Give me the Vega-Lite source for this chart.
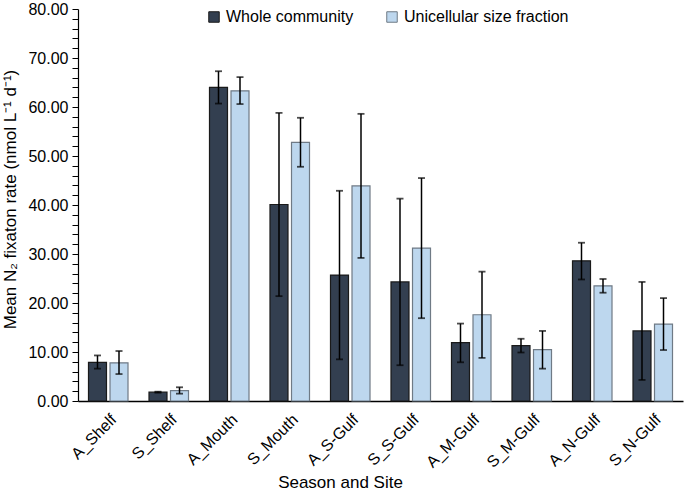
{
  "$schema": "https://vega.github.io/schema/vega-lite/v6.json",
  "width": 605,
  "height": 392,
  "autosize": "none",
  "padding": {"left": 78, "top": 9, "right": 4, "bottom": 92},
  "background": "white",
  "config": {
    "font": "Liberation Sans",
    "view": {"stroke": null},
    "axis": {"labelFont": "Liberation Sans", "titleFont": "Liberation Sans", "labelColor": "#000", "titleColor": "#000", "titleFontWeight": "normal", "domainColor": "#000", "tickColor": "#000"},
    "axisY": {
      "titleFontSize": 17, "titlePadding": 8, "titleY": 190,
      "labelFontSize": 16, "grid": false, "ticks": true, "tickSize": 6, "tickWidth": 1, "domainWidth": 1.2,
      "labelOverlap": false, "labelBound": false, "labelFlush": false, "labelPadding": 4,
      "tickCount": 40,
      "labelExpr": "datum.value % 10 === 0 ? format(datum.value, '.2f') : ''"
    },
    "legend": {"labelFont": "Liberation Sans", "labelColor": "#000"}
  },
  "data": {
    "values": [
      {"site": "A_Shelf", "series": "Whole community", "value": 7.9, "lo": 6.6, "hi": 9.3},
      {"site": "A_Shelf", "series": "Unicellular size fraction", "value": 7.8, "lo": 5.5, "hi": 10.2},
      {"site": "S_Shelf", "series": "Whole community", "value": 1.8, "lo": 1.7, "hi": 1.9},
      {"site": "S_Shelf", "series": "Unicellular size fraction", "value": 2.1, "lo": 1.5, "hi": 2.8},
      {"site": "A_Mouth", "series": "Whole community", "value": 64.0, "lo": 60.7, "hi": 67.3},
      {"site": "A_Mouth", "series": "Unicellular size fraction", "value": 63.3, "lo": 60.6, "hi": 66.1},
      {"site": "S_Mouth", "series": "Whole community", "value": 40.1, "lo": 21.4, "hi": 58.8},
      {"site": "S_Mouth", "series": "Unicellular size fraction", "value": 52.8, "lo": 47.8, "hi": 57.8},
      {"site": "A_S-Gulf", "series": "Whole community", "value": 25.7, "lo": 8.5, "hi": 42.9},
      {"site": "A_S-Gulf", "series": "Unicellular size fraction", "value": 43.9, "lo": 29.2, "hi": 58.6},
      {"site": "S_S-Gulf", "series": "Whole community", "value": 24.3, "lo": 7.3, "hi": 41.3},
      {"site": "S_S-Gulf", "series": "Unicellular size fraction", "value": 31.2, "lo": 16.9, "hi": 45.5},
      {"site": "A_M-Gulf", "series": "Whole community", "value": 11.9, "lo": 7.9, "hi": 15.8},
      {"site": "A_M-Gulf", "series": "Unicellular size fraction", "value": 17.6, "lo": 8.8, "hi": 26.4},
      {"site": "S_M-Gulf", "series": "Whole community", "value": 11.3, "lo": 9.9, "hi": 12.7},
      {"site": "S_M-Gulf", "series": "Unicellular size fraction", "value": 10.5, "lo": 6.6, "hi": 14.3},
      {"site": "A_N-Gulf", "series": "Whole community", "value": 28.6, "lo": 24.8, "hi": 32.3},
      {"site": "A_N-Gulf", "series": "Unicellular size fraction", "value": 23.5, "lo": 22.1, "hi": 24.9},
      {"site": "S_N-Gulf", "series": "Whole community", "value": 14.3, "lo": 4.3, "hi": 24.3},
      {"site": "S_N-Gulf", "series": "Unicellular size fraction", "value": 15.7, "lo": 10.4, "hi": 21.0}
    ]
  },
  "encoding": {
    "x": {
      "field": "site", "type": "nominal", "sort": null,
      "scale": {"paddingInner": 0, "paddingOuter": 0},
      "axis": {"title": "Season and Site", "titleFontSize": 17, "titleX": 262, "titleY": 86, "titleBaseline": "alphabetic", "titleAlign": "center", "labelAngle": -45, "labelFontSize": 16, "ticks": false, "labelPadding": 10, "domainWidth": 1.5, "labelOverlap": false, "labelBound": false, "labelFlush": false}
    },
    "xOffset": {
      "field": "series", "type": "nominal", "sort": ["Whole community", "Unicellular size fraction"],
      "scale": {"paddingInner": 0.163, "paddingOuter": 0.488}
    }
  },
  "layer": [
    {
      "mark": {"type": "bar", "strokeWidth": 1.2},
      "encoding": {
        "y": {
          "field": "value", "type": "quantitative",
          "scale": {"domain": [0, 80], "nice": false},
          "axis": {"title": "Mean N₂ fixaton rate (nmol L⁻¹ d⁻¹)"}
        },
        "fill": {
          "field": "series", "type": "nominal", "sort": ["Whole community", "Unicellular size fraction"],
          "scale": {"domain": ["Whole community", "Unicellular size fraction"], "range": ["#333f50", "#bdd7ee"]},
          "legend": {
            "title": null, "orient": "none", "legendX": 128, "legendY": 0, "direction": "horizontal",
            "symbolType": "square", "symbolSize": 110, "symbolStrokeColor": "#404040", "symbolStrokeWidth": 1,
            "labelFontSize": 16, "columnPadding": 30, "labelOffset": 4, "labelLimit": 400
          }
        },
        "stroke": {
          "field": "series", "type": "nominal",
          "scale": {"domain": ["Whole community", "Unicellular size fraction"], "range": ["#1a1a1a", "#6f7a85"]},
          "legend": null
        }
      }
    },
    {
      "mark": {"type": "rule", "color": "#000", "strokeWidth": 1.5},
      "encoding": {
        "y": {"field": "lo", "type": "quantitative", "axis": {"title": "Mean N₂ fixaton rate (nmol L⁻¹ d⁻¹)"}},
        "y2": {"field": "hi"}
      }
    },
    {
      "mark": {"type": "tick", "color": "#000", "thickness": 1.8, "size": 7},
      "encoding": {"y": {"field": "hi", "type": "quantitative", "axis": {"title": "Mean N₂ fixaton rate (nmol L⁻¹ d⁻¹)"}}}
    },
    {
      "mark": {"type": "tick", "color": "#000", "thickness": 1.8, "size": 7},
      "encoding": {"y": {"field": "lo", "type": "quantitative", "axis": {"title": "Mean N₂ fixaton rate (nmol L⁻¹ d⁻¹)"}}}
    }
  ]
}
